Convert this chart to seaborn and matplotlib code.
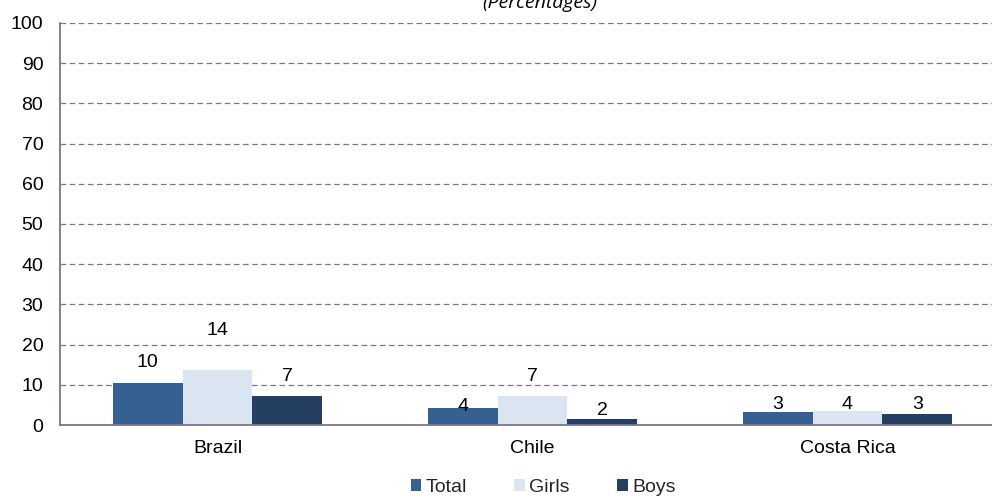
import matplotlib
matplotlib.use("Agg")
import matplotlib.pyplot as plt
from matplotlib.patches import Patch
import seaborn as sns
import pandas as pd

# Data
countries = ["Brazil", "Chile", "Costa Rica"]
groups = ["Total", "Girls", "Boys"]
total = [10.4, 4.3, 3.2]
girls = [13.7, 7.1, 3.5]
boys = [7.2, 1.6, 2.8]
y_ticks = [0, 10, 20, 30, 40, 50, 60, 70, 80, 90, 100]

# Label offsets above each bar (points), grouped by series
label_pads = {
    "Total": [8.6, -5.0, -0.5],
    "Girls": [22.0, 8.0, -1.2],
    "Boys": [8.2, -0.5, 0.5],
}

colors = {"Total": "#366092", "Girls": "#dbe5f1", "Boys": "#243f60"}
axis_color = "#7c7393"
FS = 14

sns.set_theme(style="white")
plt.rcParams["font.family"] = ["Liberation Sans", "DejaVu Sans"]

rows = []
for g, vals in zip(groups, [total, girls, boys]):
    for c, v in zip(countries, vals):
        rows.append({"country": c, "group": g, "value": v})
df = pd.DataFrame(rows)

fig = plt.figure(figsize=(9.92, 4.96), dpi=100)
ax = fig.add_axes([60 / 992, 1 - 425 / 496, 945 / 992, 402 / 496])

sns.barplot(
    data=df, x="country", y="value", hue="group",
    order=countries, hue_order=groups,
    palette=colors, width=0.665, gap=0, saturation=1,
    linewidth=0, legend=False, ax=ax,
)

# Value labels
for container, g in zip(ax.containers, groups):
    for bar, pad in zip(container, label_pads[g]):
        h = bar.get_height()
        ax.annotate(
            f"{h:.0f}",
            (bar.get_x() + bar.get_width() / 2, h),
            xytext=(0, pad), textcoords="offset points",
            ha="center", va="bottom", fontsize=FS, color="black",
        )

ax.set_ylim(0, 100)
ax.set_xlim(-0.5, 2.5)
ax.set_yticks(y_ticks)
ax.set_xlabel("")
ax.set_ylabel("")

# Dashed horizontal gridlines
for t in y_ticks[1:]:
    ax.axhline(t, color=axis_color, lw=0.9, dashes=(4.5, 2.8), zorder=0)

for side in ["top", "right"]:
    ax.spines[side].set_visible(False)
for side in ["left", "bottom"]:
    ax.spines[side].set_color(axis_color)
    ax.spines[side].set_linewidth(1.3)

ax.tick_params(axis="y", direction="out", length=5, width=1.2,
               color=axis_color, labelsize=FS, labelcolor="black", pad=7)
ax.tick_params(axis="x", which="major", length=0, labelsize=FS,
               labelcolor="black", pad=11)
ax.set_xticks([-0.5, 0.5, 1.5, 2.5], minor=True)
ax.tick_params(axis="x", which="minor", direction="out", length=4.5,
               width=1.2, color=axis_color)
ax.set_axisbelow(True)

# Subtitle (partly above the figure edge)
fig.text(540 / 992, 1 - 8 / 496, "(Percentages)", ha="center",
         va="baseline", fontsize=14, style="italic",
         family=["Open Sans", "DejaVu Sans"], color="black")

handles = [Patch(facecolor=colors[g], edgecolor="none", label=g) for g in groups]
fig.legend(
    handles=handles, loc="center", ncol=3,
    bbox_to_anchor=(543 / 992, 1 - 487 / 496),
    frameon=False, fontsize=FS, handlelength=0.56, handleheight=0.56,
    handletextpad=0.2, columnspacing=2.45, borderpad=0,
)

fig.savefig("out.png", dpi=100)
